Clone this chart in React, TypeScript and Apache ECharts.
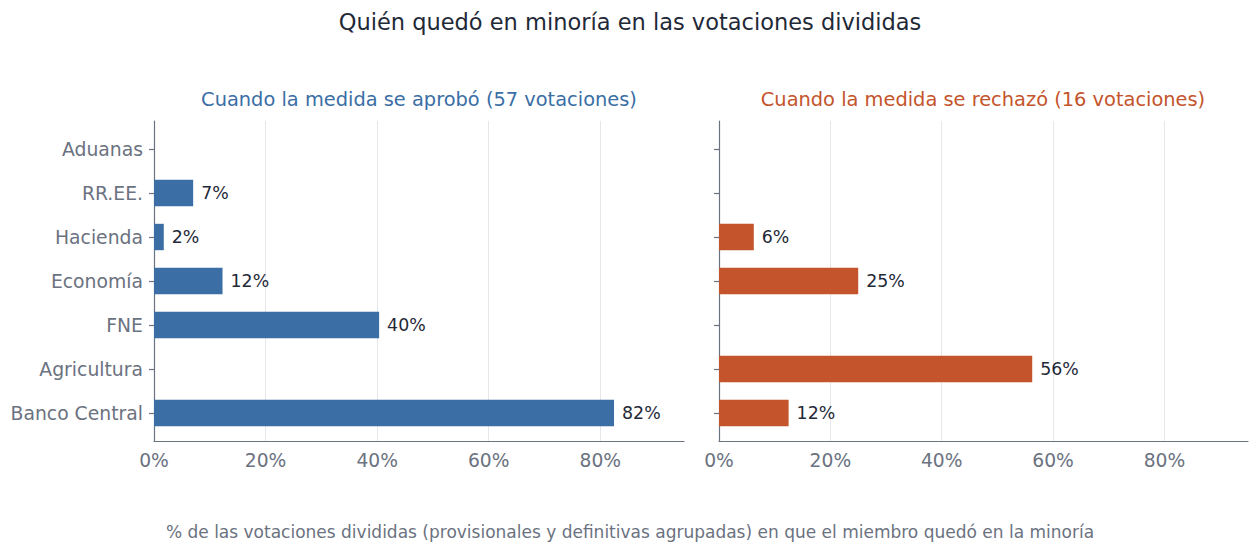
import React, { useEffect, useRef } from "react";
import * as echarts from "echarts";

const categories = ["Aduanas", "RR.EE.", "Hacienda", "Economía", "FNE", "Agricultura", "Banco Central"];
const approvedShare = [0, 4 / 57, 1 / 57, 7 / 57, 23 / 57, 0, 47 / 57];
const rejectedShare = [0, 0, 1 / 16, 4 / 16, 0, 9 / 16, 2 / 16];
const xTicks = [0, 0.2, 0.4, 0.6, 0.8];

const FONT = "DejaVu Sans";
const GRAY = "#6b7280";
const DARK = "#1f2937";
const BLUE = "#3a6ea5";
const ORANGE = "#c4542b";
const XMAX = 0.95;

// round half to even, like Python's format
const roundEven = (x: number) => {
  const f = Math.floor(x);
  const d = x - f;
  if (Math.abs(d - 0.5) < 1e-9) return f % 2 === 0 ? f : f + 1;
  return Math.round(x);
};
const pct = (v: number) => `${roundEven(v * 100)}%`;

export default function App() {
  const ref = useRef<HTMLDivElement>(null);
  useEffect(() => {
    if (!ref.current) return;
    const chart = echarts.init(ref.current, undefined, { renderer: "svg" });
    const panels = [
      { left: 154, width: 530, data: approvedShare, color: BLUE, labels: true },
      { left: 719, width: 529, data: rejectedShare, color: ORANGE, labels: false },
    ];
    const grid: any[] = [];
    const xAxis: any[] = [];
    const yAxis: any[] = [];
    const series: any[] = [];
    panels.forEach((p, i) => {
      grid.push({ left: p.left, width: p.width, top: 121, height: 320 });
      grid.push({ left: p.left, width: p.width, top: 127, height: 308 });
      const gA = i * 2;
      const gB = i * 2 + 1;
      xAxis.push({
        type: "value",
        gridIndex: gA,
        min: 0,
        max: XMAX,
        interval: 0.2,
        axisLine: { show: true, lineStyle: { color: GRAY, width: 1.2 } },
        axisTick: { show: false },
        axisLabel: {
          show: true,
          margin: 10,
          color: GRAY,
          fontFamily: FONT,
          fontSize: 18.7,
          showMaxLabel: false,
          formatter: (v: number) => (xTicks.some((t) => Math.abs(t - v) < 1e-6) ? pct(v) : ""),
        },
        splitLine: { show: true, showMinLine: false, showMaxLine: false, lineStyle: { color: "#e5e7eb", width: 1 } },
      });
      xAxis.push({
        type: "value",
        gridIndex: gB,
        min: 0,
        max: XMAX,
        show: false,
      });
      yAxis.push({
        type: "value",
        gridIndex: gA,
        min: 0,
        max: 1,
        axisLine: { show: true, lineStyle: { color: GRAY, width: 1.2 } },
        axisTick: { show: false },
        axisLabel: { show: false },
        splitLine: { show: false },
      });
      yAxis.push({
        type: "category",
        gridIndex: gB,
        data: categories,
        inverse: true,
        axisLine: { show: false },
        axisTick: { show: true, length: 5, alignWithLabel: true, lineStyle: { color: GRAY, width: 1.2 } },
        axisLabel: {
          show: p.labels,
          margin: 11,
          color: GRAY,
          fontFamily: FONT,
          fontSize: 18.8,
        },
        splitLine: { show: false },
      });
      series.push({
        type: "bar",
        xAxisIndex: gB,
        yAxisIndex: gB,
        data: p.data,
        barWidth: "60%",
        itemStyle: { color: p.color },
        label: {
          show: true,
          position: "right",
          distance: 8,
          color: DARK,
          fontFamily: FONT,
          fontSize: 17.4,
          formatter: (d: any) => (d.value > 0 ? pct(d.value) : ""),
        },
      });
    });

    chart.setOption({
      animation: false,
      backgroundColor: "#ffffff",
      grid,
      xAxis,
      yAxis,
      series,
      graphic: [
        {
          type: "text",
          x: 630,
          y: 22,
          style: {
            text: "Quién quedó en minoría en las votaciones divididas",
            fill: DARK,
            font: `22.5px "${FONT}"`,
            textAlign: "center",
            textVerticalAlign: "middle",
          },
        },
        {
          type: "text",
          x: 419,
          y: 99,
          style: {
            text: "Cuando la medida se aprobó (57 votaciones)",
            fill: BLUE,
            font: `19.4px "${FONT}"`,
            textAlign: "center",
            textVerticalAlign: "middle",
          },
        },
        {
          type: "text",
          x: 983,
          y: 99,
          style: {
            text: "Cuando la medida se rechazó (16 votaciones)",
            fill: ORANGE,
            font: `19.4px "${FONT}"`,
            textAlign: "center",
            textVerticalAlign: "middle",
          },
        },
        {
          type: "text",
          x: 630,
          y: 532,
          style: {
            text: "% de las votaciones divididas (provisionales y definitivas agrupadas) en que el miembro quedó en la minoría",
            fill: GRAY,
            font: `17px "${FONT}"`,
            textAlign: "center",
            textVerticalAlign: "middle",
          },
        },
      ],
    });
    return () => chart.dispose();
  }, []);
  return (
    <div
      ref={ref}
      style={{ position: "fixed", left: 0, top: 0, width: 1260, height: 552, background: "#fff" }}
    />
  );
}
